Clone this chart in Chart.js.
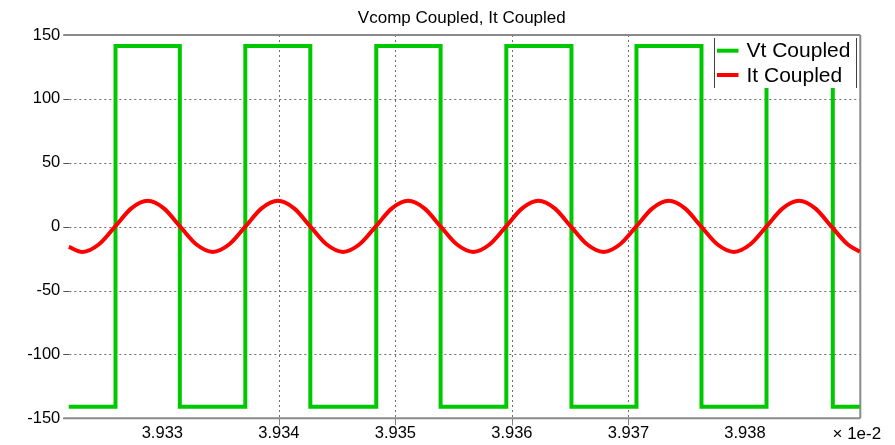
<!DOCTYPE html>
<html>
<head>
<meta charset="utf-8">
<script src="https://cdn.jsdelivr.net/npm/chart.js@4/dist/chart.umd.min.js"></script>
<style>
  html, body { margin: 0; padding: 0; background: #fff; }
  #wrap { width: 895px; height: 445px; }
</style>
</head>
<body>
<div id="wrap"><canvas id="c" width="895" height="445"></canvas></div>
<script>
const chartTitle = 'Vcomp Coupled, It Coupled';
const seriesNames = ['Vt Coupled', 'It Coupled'];
const xUnitLabel = '\u00d7 1e-2';
const xRange = [3.93215, 3.93899];
const xTicks = [3.933, 3.934, 3.935, 3.936, 3.937, 3.938];
const xGridAt = [3.934, 3.935, 3.936, 3.937];
const yRange = [-150, 150];
const yTicks = [-150, -100, -50, 0, 50, 100, 150];

// Vt: switching instants and the level held from each instant onwards
const vtTimes = [3.932197, 3.932598, 3.933150, 3.933712, 3.934270, 3.934836, 3.935388,
                 3.935952, 3.936511, 3.937069, 3.937627, 3.938185, 3.938754, 3.938986];
const vtLevels = [-141, 141.4, -141, 141.4, -141, 141.4, -141,
                  141.4, -141, 141.4, -141, 141.4, -141, -141];

// It: sampled current
const itTimes = [3.932197, 3.932315, 3.932454, 3.932594, 3.932734, 3.932874, 3.933013, 3.933153,
                 3.933293, 3.933433, 3.933572, 3.933712, 3.933852, 3.933992, 3.934131, 3.934271,
                 3.934411, 3.934551, 3.934690, 3.934830, 3.934970, 3.935110, 3.935249, 3.935389,
                 3.935529, 3.935669, 3.935808, 3.935948, 3.936088, 3.936228, 3.936367, 3.936507,
                 3.936647, 3.936787, 3.936926, 3.937066, 3.937206, 3.937346, 3.937485, 3.937625,
                 3.937765, 3.937905, 3.938044, 3.938184, 3.938324, 3.938464, 3.938603, 3.938743,
                 3.938883, 3.938986];
const itValues = [-15.8, -19.8, -14.0, 0, 14.3, 20.2, 14.3, 0,
                  -14.0, -19.8, -14.0, 0, 14.3, 20.2, 14.3, 0,
                  -14.0, -19.8, -14.0, 0, 14.3, 20.2, 14.3, 0,
                  -14.0, -19.8, -14.0, 0, 14.3, 20.2, 14.3, 0,
                  -14.0, -19.8, -14.0, 0, 14.3, 20.2, 14.3, 0,
                  -14.0, -19.8, -14.0, 0, 14.3, 20.2, 14.3, 0,
                  -14.0, -19.6];

const GREEN = '#00c800';
const RED = '#ff0000';
const FONT = "'Liberation Sans', Arial, sans-serif";

const vtPoints = vtTimes.map((t, i) => ({ x: t, y: vtLevels[i] }));
const itPoints = itTimes.map((t, i) => ({ x: t, y: itValues[i] }));

// Grid, frame and tick marks drawn under the traces; legend and captions on top
const framePlugin = {
  id: 'frame',
  beforeDatasetsDraw(chart) {
    const { ctx, chartArea: a, scales: { x, y } } = chart;
    ctx.save();
    ctx.lineWidth = 1;
    ctx.strokeStyle = '#6e6e6e';
    ctx.setLineDash([2, 3]);
    yTicks.forEach(v => {
      if (v === yRange[0] || v === yRange[1]) return;
      const py = Math.round(y.getPixelForValue(v)) + 0.5;
      ctx.beginPath(); ctx.moveTo(a.left + 6, py); ctx.lineTo(a.right, py); ctx.stroke();
    });
    xGridAt.forEach(v => {
      const px = Math.round(x.getPixelForValue(v)) + 0.5;
      ctx.beginPath(); ctx.moveTo(px, a.top); ctx.lineTo(px, a.bottom); ctx.stroke();
    });
    ctx.setLineDash([]);
    // inward tick marks on the value axis
    ctx.strokeStyle = '#505050';
    yTicks.forEach(v => {
      const py = Math.round(y.getPixelForValue(v)) + 0.5;
      ctx.beginPath(); ctx.moveTo(a.left, py); ctx.lineTo(a.left + 6, py); ctx.stroke();
    });
    // outward tick marks on the time axis
    ctx.strokeStyle = '#808080';
    xGridAt.forEach(v => {
      const px = Math.round(x.getPixelForValue(v)) + 0.5;
      ctx.beginPath(); ctx.moveTo(px, a.bottom); ctx.lineTo(px, a.bottom + 7); ctx.stroke();
    });
    // solid frame: top, bottom, right
    ctx.strokeStyle = '#8a8a8a';
    ctx.lineWidth = 2;
    ctx.beginPath();
    ctx.moveTo(a.left, a.top); ctx.lineTo(a.right, a.top);
    ctx.moveTo(a.left, a.bottom); ctx.lineTo(a.right, a.bottom);
    ctx.moveTo(a.right, a.top); ctx.lineTo(a.right, a.bottom);
    ctx.stroke();
    ctx.restore();
  },
  afterDatasetsDraw(chart) {
    const { ctx, chartArea: a } = chart;
    ctx.save();
    // legend box
    const lx0 = 714.5, lx1 = 856.5, ly0 = 38, ly1 = 88;
    ctx.fillStyle = '#fff';
    ctx.fillRect(lx0, ly0, lx1 - lx0, ly1 - ly0);
    ctx.strokeStyle = '#404040';
    ctx.lineWidth = 1;
    ctx.beginPath();
    ctx.moveTo(lx0, ly0); ctx.lineTo(lx0, ly1);
    ctx.moveTo(lx1, ly0); ctx.lineTo(lx1, ly1);
    ctx.stroke();
    const rows = [[seriesNames[0], GREEN, 50.7], [seriesNames[1], RED, 75]];
    ctx.font = '21px ' + FONT;
    ctx.textBaseline = 'middle';
    ctx.textAlign = 'left';
    rows.forEach(([name, col, ry]) => {
      ctx.strokeStyle = col; ctx.lineWidth = 4;
      ctx.beginPath(); ctx.moveTo(717, ry); ctx.lineTo(738.5, ry); ctx.stroke();
      ctx.fillStyle = '#000';
      ctx.fillText(name, 746.5, ry + 1);
    });
    // title
    ctx.font = '17px ' + FONT;
    ctx.textAlign = 'center';
    ctx.fillText(chartTitle, (a.left + a.right) / 2, 18);
    // exponent of the time axis
    ctx.textAlign = 'left';
    ctx.fillText(xUnitLabel, 832.5, 434);
    ctx.restore();
  }
};

new Chart(document.getElementById('c'), {
  type: 'line',
  data: {
    datasets: [
      { label: seriesNames[0], data: vtPoints, borderColor: GREEN, borderWidth: 4,
        stepped: 'before', pointRadius: 0, fill: false, order: 1,
        borderJoinStyle: 'miter', borderCapStyle: 'butt' },
      { label: seriesNames[1], data: itPoints, borderColor: RED, borderWidth: 4,
        cubicInterpolationMode: 'monotone', pointRadius: 0, fill: false, order: 0 }
    ]
  },
  options: {
    responsive: false,
    animation: false,
    devicePixelRatio: 1,
    layout: { padding: { top: 35, right: 34.7, left: 0, bottom: 0 } },
    plugins: { legend: { display: false }, title: { display: false }, tooltip: { enabled: false } },
    scales: {
      x: {
        type: 'linear', min: xRange[0], max: xRange[1],
        grid: { display: false, drawTicks: false }, border: { display: false },
        afterBuildTicks: s => { s.ticks = xTicks.map(v => ({ value: v })); },
        afterFit: s => { s.height = 26.7; },
        ticks: { color: '#000', font: { family: FONT, size: 16.5 }, padding: 5,
                 maxRotation: 0, autoSkip: false, callback: v => v.toFixed(3) }
      },
      y: {
        type: 'linear', min: yRange[0], max: yRange[1],
        grid: { display: false, drawTicks: false }, border: { display: false },
        afterBuildTicks: s => { s.ticks = yTicks.map(v => ({ value: v })); },
        afterFit: s => { s.width = 63.3; },
        ticks: { color: '#000', font: { family: FONT, size: 16.5 }, padding: 3,
                 callback: v => String(v) }
      }
    }
  },
  plugins: [framePlugin]
});
</script>
</body>
</html>
